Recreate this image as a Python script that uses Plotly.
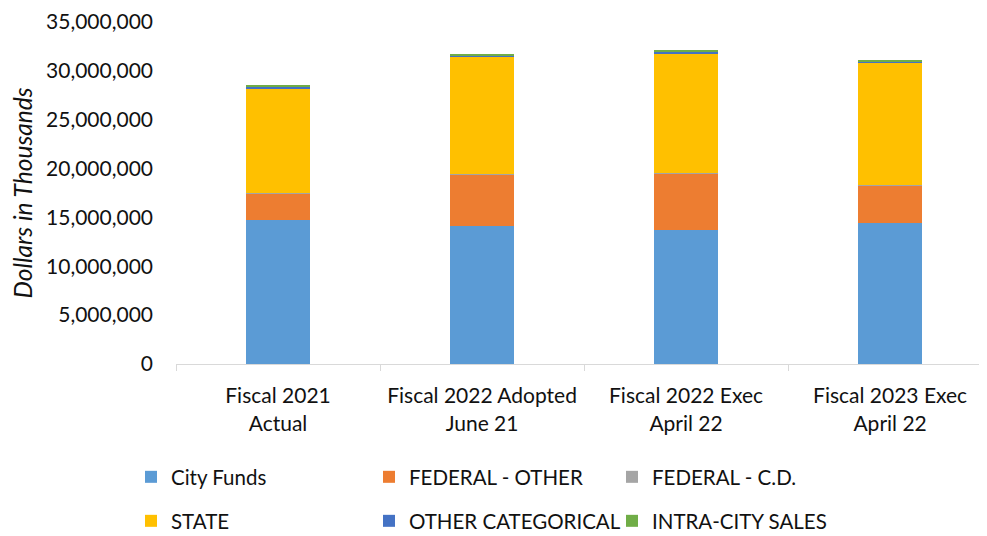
import plotly.graph_objects as go

categories = ["Fiscal 2021<br>Actual", "Fiscal 2022 Adopted<br>June 21",
              "Fiscal 2022 Exec<br>April 22", "Fiscal 2023 Exec<br>April 22"]

city_funds = [14_700_000, 14_080_000, 13_670_000, 14_450_000]
federal_other = [2_720_000, 5_300_000, 5_810_000, 3_840_000]
federal_cd = [100_000, 50_000, 70_000, 30_000]
state = [10_680_000, 12_000_000, 12_190_000, 12_530_000]
other_categorical = [200_000, 130_000, 200_000, 140_000]
intra_city_sales = [140_000, 70_000, 100_000, 60_000]

y_ticks = [0, 5_000_000, 10_000_000, 15_000_000, 20_000_000,
           25_000_000, 30_000_000, 35_000_000]

series_names = ["City Funds", "FEDERAL - OTHER", "FEDERAL - C.D.",
                "STATE", "OTHER CATEGORICAL", "INTRA-CITY SALES"]
series_values = [city_funds, federal_other, federal_cd,
                 state, other_categorical, intra_city_sales]
series_colors = ["#5B9BD5", "#ED7D31", "#A5A5A5", "#FFC000", "#4472C4", "#70AD47"]

FONT = "Lato"
FS = 21
LFS = 20.5
TXT = "#111111"

# the page body has an 8px margin; the figure is sized to fit the window
OFF = 8
W, H = 987 - OFF, 536 - OFF

# legend grid: 3 columns x 2 rows (window pixels of legend left / row center)
col_x = [131, 369, 612]
row_y = [477, 521]

fig = go.Figure()
legends = {}
for i, (name, vals, color) in enumerate(zip(series_names, series_values, series_colors)):
    lg = "legend" if i == 0 else f"legend{i + 1}"
    fig.add_trace(go.Bar(
        x=categories, y=vals, name=name, legend=lg, showlegend=True,
        marker=dict(color=color, line=dict(width=0)),
    ))
    legends[lg] = dict(
        orientation="h", xref="container", yref="container",
        xanchor="left", yanchor="middle",
        x=(col_x[i % 3] - OFF) / W, y=1 - (row_y[i // 3] - OFF) / H,
        font=dict(family=FONT, size=LFS, color=TXT), bgcolor="rgba(0,0,0,0)",
        itemclick=False, itemdoubleclick=False, visible=True,
    )

fig.update_layout(
    width=W, height=H, showlegend=True,
    margin=dict(l=176 - OFF, r=0, t=22 - OFF, b=172, autoexpand=False),
    paper_bgcolor="white", plot_bgcolor="white",
    barmode="stack", bargap=0.686,
    font=dict(family=FONT, size=FS, color=TXT),
    xaxis=dict(
        type="category", range=[-0.5, 3.475],
        showline=True, linecolor="#d9d9d9", linewidth=1,
        ticks="outside", tickson="boundaries", ticklen=6, tickcolor="#d9d9d9",
        showgrid=False, ticklabelstandoff=13,
        tickfont=dict(family=FONT, size=FS, color=TXT),
    ),
    yaxis=dict(
        range=[0, 35_000_100], tickvals=y_ticks,
        tickformat=",d", ticklabeloverflow="allow",
        showgrid=False, showline=False, zeroline=False, ticks="",
        ticklabelstandoff=22,
        tickfont=dict(family=FONT, size=FS, color=TXT),
        title=dict(text="<i>Dollars in Thousands</i>", standoff=11,
                   font=dict(family=FONT, size=24.5, color=TXT)),
    ),
    **legends,
)

fig.write_html("out.html")
